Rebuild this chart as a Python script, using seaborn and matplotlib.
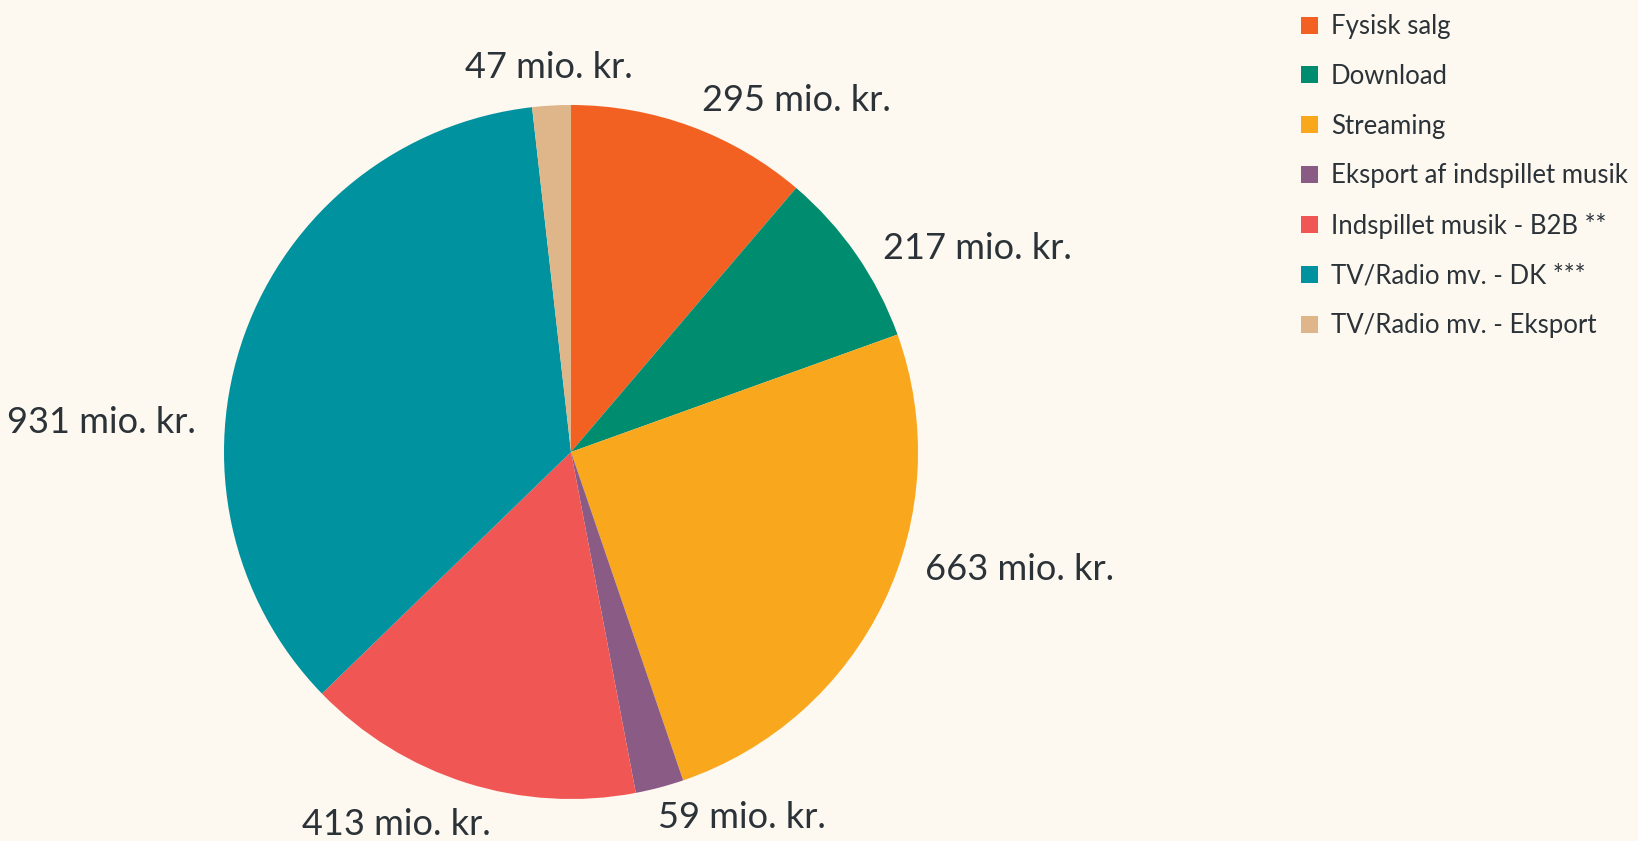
import matplotlib
matplotlib.use("Agg")
import matplotlib.pyplot as plt
import seaborn as sns
from matplotlib.patches import Patch

# data
categories = [
    "Fysisk salg",
    "Download",
    "Streaming",
    "Eksport af indspillet musik",
    "Indspillet musik - B2B **",
    "TV/Radio mv. - DK ***",
    "TV/Radio mv. - Eksport",
]
values = [295, 217, 663, 59, 413, 931, 47]
value_labels = [f"{v} mio. kr." for v in values]

colors = ["#F26122", "#008C6E", "#F9A81D", "#8A5C85", "#F05654", "#00929E", "#DEB68A"]
# small nudges of the value labels (data units), to follow the original layout
label_shift = [(0.005, 0.0), (0.011, -0.027), (0.047, 0.128), (-0.025, -0.008),
               (0.094, -0.045), (-0.064, -0.278), (-0.004, 0.03)]

BG = "#FDF8F0"
TEXT = "#2B3338"

sns.set_theme(style="white")
plt.rcParams["font.family"] = ["Lato", "DejaVu Sans"]
palette = sns.color_palette(colors)

fig = plt.figure(figsize=(16.38, 8.41), dpi=100, facecolor=BG)
ax = fig.add_axes([224 / 1638, 42 / 841, 694 / 1638, 694 / 841])
ax.set_facecolor(BG)

wedges, texts = ax.pie(
    values,
    colors=palette,
    startangle=90,
    counterclock=False,
    radius=1.0,
    labels=value_labels,
    labeldistance=1.08,
    wedgeprops=dict(linewidth=0),
    textprops=dict(fontsize=26, color=TEXT),
)
for t, (dx, dy) in zip(texts, label_shift):
    x, y = t.get_position()
    t.set_position((x + dx, y + dy))
    t.set_va("center")
    if abs(x) < 0.2:
        t.set_ha("center")
ax.set_xlim(-1, 1)
ax.set_ylim(-1, 1)
ax.set_aspect("equal")
ax.axis("off")

handles = [Patch(facecolor=c, edgecolor="none") for c in palette]
fig.legend(
    handles,
    categories,
    loc="upper left",
    bbox_to_anchor=(1291 / 1638, 1 - 4 / 841),
    frameon=False,
    fontsize=18.5,
    labelcolor=TEXT,
    handlelength=0.65,
    handleheight=0.65,
    handletextpad=0.5,
    labelspacing=0.96,
    borderaxespad=0,
)

fig.savefig("out.png", dpi=100, facecolor=BG)
